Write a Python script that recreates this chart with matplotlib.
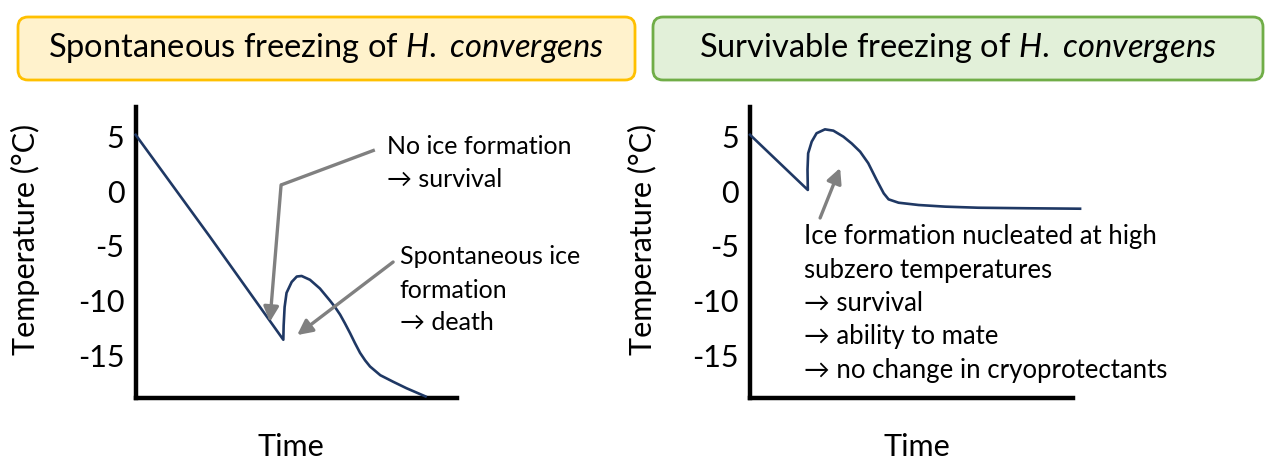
import matplotlib
matplotlib.use("Agg")
import matplotlib.pyplot as plt
from matplotlib.patches import FancyBboxPatch

plt.rcParams['font.family'] = ['Lato', 'DejaVu Sans']
plt.rcParams['mathtext.fontset'] = 'custom'
plt.rcParams['mathtext.rm'] = 'Lato'
plt.rcParams['mathtext.it'] = 'Lato:italic'
plt.rcParams['axes.unicode_minus'] = False

# ---- data (time in arbitrary units 0-100, temperature in C)
spont_time = [0, 23, 46.0, 46.1, 46.4, 47.0, 48.6, 50.2, 51.7, 54.3, 57.4, 60.5,
              62.1, 63.7, 65.2, 66.8, 68.3, 69.9, 71.5, 73.0, 76.2, 80.2, 84.4, 90.3]
spont_temp = [5.2, -4.1, -13.6, -12.3, -10.6, -9.3, -8.3, -7.8, -7.75, -8.1, -8.9, -10.0,
              -10.6, -11.3, -12.1, -13.0, -13.9, -14.8, -15.5, -16.05, -16.85, -17.45, -18.05, -18.8]

surv_time = [0, 17.9, 17.8, 18.0, 19.1, 20.6, 23.2, 25.8, 28.9, 31.5, 34.1, 36.6,
             39.2, 41.4, 42.9, 46.0, 52.2, 60.4, 70.7, 86.2, 102.2]
surv_temp = [5.2, 0.14, 2.0, 3.5, 4.57, 5.34, 5.7, 5.58, 5.03, 4.4, 3.65, 2.6,
             1.06, -0.17, -0.72, -1.03, -1.24, -1.39, -1.49, -1.54, -1.58]

yticks = [5, 0, -5, -10, -15]
titles = ["Spontaneous freezing of $H.$ $convergens$",
          "Survivable freezing of $H.$ $convergens$"]

line_col = '#1f3864'
arrow_col = '#808080'
fs_big = 22
fs_note = 18

fig = plt.figure(figsize=(12.81, 4.67), dpi=100)

# title boxes
box_specs = [(0.18, 6.17, '#fff2cc', '#ffc000'), (6.53, 6.10, '#e2f0d9', '#70ad47')]
for (x0, w, fc, ec), title in zip(box_specs, titles):
    box = FancyBboxPatch((x0, 3.87), w, 0.63, boxstyle='round,pad=0,rounding_size=0.1',
                         transform=fig.dpi_scale_trans, facecolor=fc, edgecolor=ec,
                         linewidth=2)
    fig.patches.append(box)
    fig.text((x0 + w / 2) / 12.81, (3.87 + 0.315) / 4.67, title, ha='center', va='center',
             fontsize=23.5)

ax1 = fig.add_axes([0.1059, 0.1478, 0.2506, 0.6231])
ax2 = fig.add_axes([0.5855, 0.1478, 0.2521, 0.6231])

for ax, t, v, lx in [(ax1, spont_time, spont_temp, 0.484), (ax2, surv_time, surv_temp, 0.517)]:
    ax.plot(t, v, color=line_col, lw=1.9, clip_on=False, zorder=3)
    ax.set_xlim(0, 100)
    ax.set_ylim(-18.94, 7.75)
    ax.set_yticks(yticks)
    ax.set_xticks([])
    ax.tick_params(axis='y', length=0, pad=8, labelsize=fs_big)
    for s in ['top', 'right']:
        ax.spines[s].set_visible(False)
    for s in ['left', 'bottom']:
        ax.spines[s].set_linewidth(3.2)
        ax.spines[s].set_capstyle('projecting')
    ax.set_ylabel('Temperature (°C)', fontsize=fs_big)
    ax.set_xlabel('Time', fontsize=fs_big)
    ax.xaxis.set_label_coords(lx, -0.12)

ax1.yaxis.set_label_coords(-0.298, 0.545)
ax2.yaxis.set_label_coords(-0.288, 0.545)

arrow_kw = dict(arrowstyle='-|>,head_length=0.9,head_width=0.45', color=arrow_col, lw=2.4,
                shrinkA=0, shrinkB=0)

# left panel annotations
ax1.plot([74.5, 45.3], [3.81, 0.6], color=arrow_col, lw=2.4, solid_capstyle='butt', zorder=4)
ax1.annotate('', xy=(41.8, -11.97), xytext=(45.3, 0.6), arrowprops=arrow_kw, zorder=4)
ax1.annotate('', xy=(50.3, -13.17), xytext=(80.2, -6.47), arrowprops=arrow_kw, zorder=4)

ax1.text(78.3, 4.11, 'No ice formation', fontsize=fs_note, va='center')
ax1.text(78.3, 1.06, '\u2192 survival', fontsize=fs_note, va='center')
ax1.text(82.3, -5.98, 'Spontaneous ice', fontsize=fs_note, va='center')
ax1.text(82.3, -9.04, 'formation', fontsize=fs_note, va='center')
ax1.text(82.3, -12.06, '\u2192 death', fontsize=fs_note, va='center')

# right panel annotations
ax2.annotate('', xy=(27.9, 2.16), xytext=(21.7, -2.43), arrowprops=arrow_kw, zorder=4)
right_lines = ['Ice formation nucleated at high', 'subzero temperatures',
               '\u2192 survival', '\u2192 ability to mate',
               '\u2192 no change in cryoprotectants']
for i, txt in enumerate(right_lines):
    ax2.text(16.7, -4.15 - 3.06 * i, txt, fontsize=18.5, va='center')

fig.savefig('out.png', dpi=100)
